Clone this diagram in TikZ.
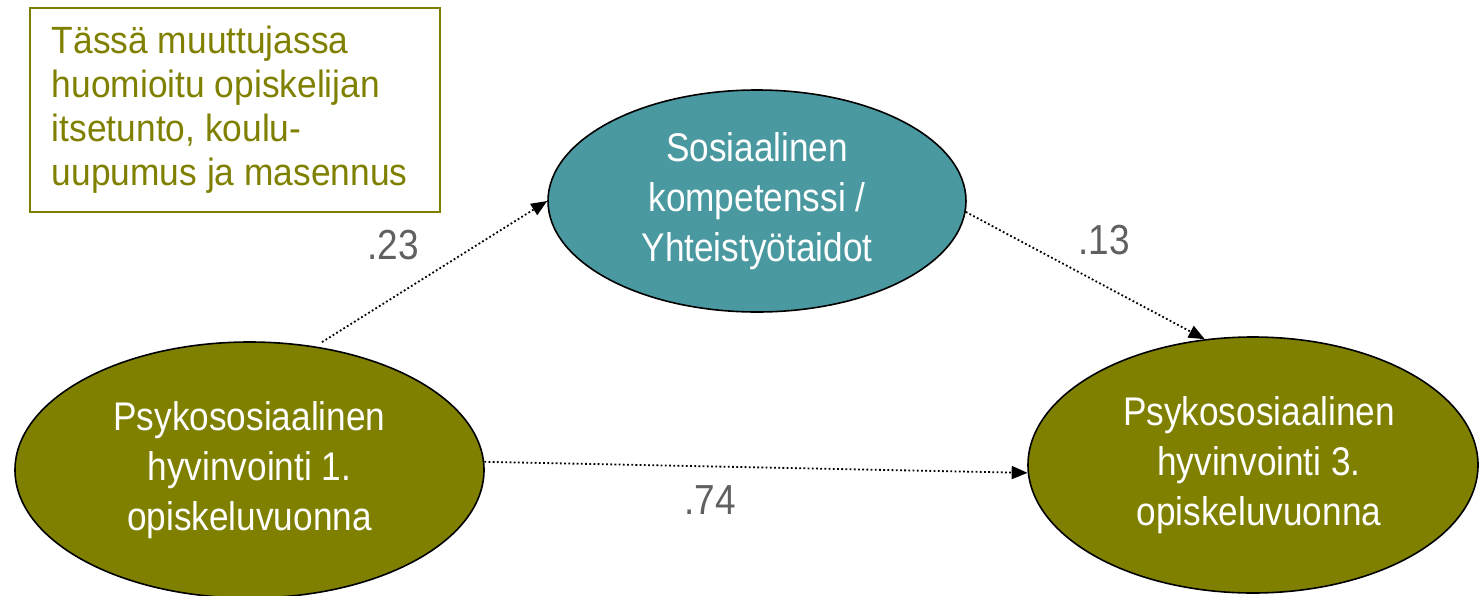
\documentclass[tikz,border=0pt]{standalone}
\usepackage{fontspec}
\setmainfont{Liberation Sans}
\newfontfamily\ellfont[FakeStretch=0.88]{Liberation Sans}
\newfontfamily\boxfont[FakeStretch=0.93]{Liberation Sans}
\usetikzlibrary{shapes.geometric,arrows.meta}
\definecolor{olivegreen}{RGB}{128,128,0}
\definecolor{tealfill}{RGB}{74,153,160}
\definecolor{labelgray}{RGB}{96,96,96}
\begin{document}
\begin{tikzpicture}[x=1pt,y=-1pt,
  ell/.style={ellipse, draw=black, line width=1.6pt, inner sep=0pt, align=center,
    text=white, font=\ellfont\fontsize{40}{50}\selectfont},
  pathline/.style={draw=black, line width=1.8pt, dash pattern=on 1.8pt off 2.4pt,
    -{Triangle[length=16pt,width=13pt]}},
  coef/.style={text=labelgray, font=\ellfont\fontsize{42}{50}\selectfont, inner sep=0pt},
  notebox/.style={draw=olivegreen, line width=1.8pt, text=olivegreen, align=flush left,
    font=\boxfont\fontsize{38}{44}\selectfont, minimum width=410pt,
    minimum height=204pt, inner xsep=22pt, text width=366pt, anchor=north west}]
\useasboundingbox (0,0) rectangle (1481,595);
\node[notebox] (note) at (29,7) {\hyphenpenalty10000 Tässä muuttujassa\\huomioitu opiskelijan\\itsetunto, koulu-\\uupumus ja masennus};
\node[ell, fill=olivegreen, minimum width=469pt, minimum height=256pt] (L) at (249.5,470)
  {Psykososiaalinen\\hyvinvointi 1.\\opiskeluvuonna};
\node[ell, fill=tealfill, minimum width=418pt, minimum height=222pt] (T) at (757,201)
  {Sosiaalinen\\kompetenssi /\\Yhteistyötaidot};
\node[ell, fill=olivegreen, minimum width=450pt, minimum height=256pt] (R) at (1253,465)
  {\hspace*{12pt}Psykososiaalinen\\\hspace*{12pt}hyvinvointi 3.\\\hspace*{12pt}opiskeluvuonna};
\draw[pathline, shorten <=8pt] (L.62) -- (T.west);
\draw[pathline] (T.-3) -- (R.111);
\draw[pathline] (L.2) -- (R.182);
\node[coef] (c1) at (393,245) {.23};
\node[coef] (c2) at (1104,240) {.13};
\node[coef] (c3) at (710,500) {.74};
\end{tikzpicture}
\end{document}
